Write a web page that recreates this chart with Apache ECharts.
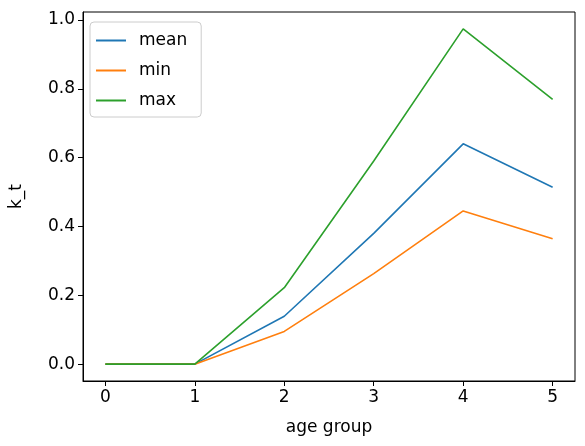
<!DOCTYPE html>
<html>
<head>
<meta charset="utf-8">
<script src="https://cdn.jsdelivr.net/npm/echarts@6/dist/echarts.min.js"></script>
<style>html,body{margin:0;padding:0;background:#fff}#main{width:585px;height:446px}</style>
</head>
<body>
<div id="main"></div>
<script>
var ageGroups = [0, 1, 2, 3, 4, 5];
var meanValues = [0, 0, 0.139, 0.38, 0.64, 0.514];
var minValues = [0, 0, 0.095, 0.263, 0.445, 0.364];
var maxValues = [0, 0, 0.222, 0.59, 0.974, 0.769];
var xTicks = [0, 1, 2, 3, 4, 5];
var yTicks = [0, 0.2, 0.4, 0.6, 0.8, 1.0];

function pairs(vals) {
    return ageGroups.map(function (x, i) { return [x, vals[i]]; });
}
function line(name, vals, color) {
    return {
        name: name, type: 'line', data: pairs(vals), showSymbol: false,
        lineStyle: { color: color, width: 1.6 }, itemStyle: { color: color }
    };
}

var font = 'DejaVu Sans';
var chart = echarts.init(document.getElementById('main'));
chart.setOption({
    animation: false,
    grid: { left: 80, right: 10, top: 12, bottom: 65, show: true, borderColor: '#000', borderWidth: 1 },
    legend: {
        orient: 'vertical', left: 90, top: 22, itemWidth: 30, itemHeight: 2, itemGap: 13,
        padding: [10, 14, 8, 6], borderColor: '#ccc', borderWidth: 1, borderRadius: 4,
        backgroundColor: '#fff', textStyle: { fontFamily: font, fontSize: 17, color: '#000', padding: [0, 0, 0, 8] },
        icon: 'rect', data: ['mean', 'min', 'max']
    },
    xAxis: {
        type: 'value', min: -0.25, max: 5.25,
        name: 'age group', nameLocation: 'middle', nameGap: 38,
        nameTextStyle: { fontFamily: font, fontSize: 17, color: '#000' },
        axisLine: { show: true, onZero: false, lineStyle: { color: '#000' } }, splitLine: { show: false },
        axisTick: { show: true, customValues: xTicks, length: 5, lineStyle: { color: '#000' } },
        axisLabel: { customValues: xTicks, fontFamily: font, fontSize: 17, color: '#000', margin: 8 }
    },
    yAxis: {
        type: 'value', min: -0.049, max: 1.023,
        name: 'k_t', nameLocation: 'middle', nameGap: 58,
        nameTextStyle: { fontFamily: font, fontSize: 17, color: '#000' },
        axisLine: { show: true, onZero: false, lineStyle: { color: '#000' } }, splitLine: { show: false },
        axisTick: { show: true, customValues: yTicks, length: 5, lineStyle: { color: '#000' } },
        axisLabel: { customValues: yTicks, fontFamily: font, fontSize: 17, color: '#000', margin: 8,
            formatter: function (v) { return v.toFixed(1); } }
    },
    series: [
        line('mean', meanValues, '#1f77b4'),
        line('min', minValues, '#ff7f0e'),
        line('max', maxValues, '#2ca02c')
    ]
});
</script>
</body>
</html>
